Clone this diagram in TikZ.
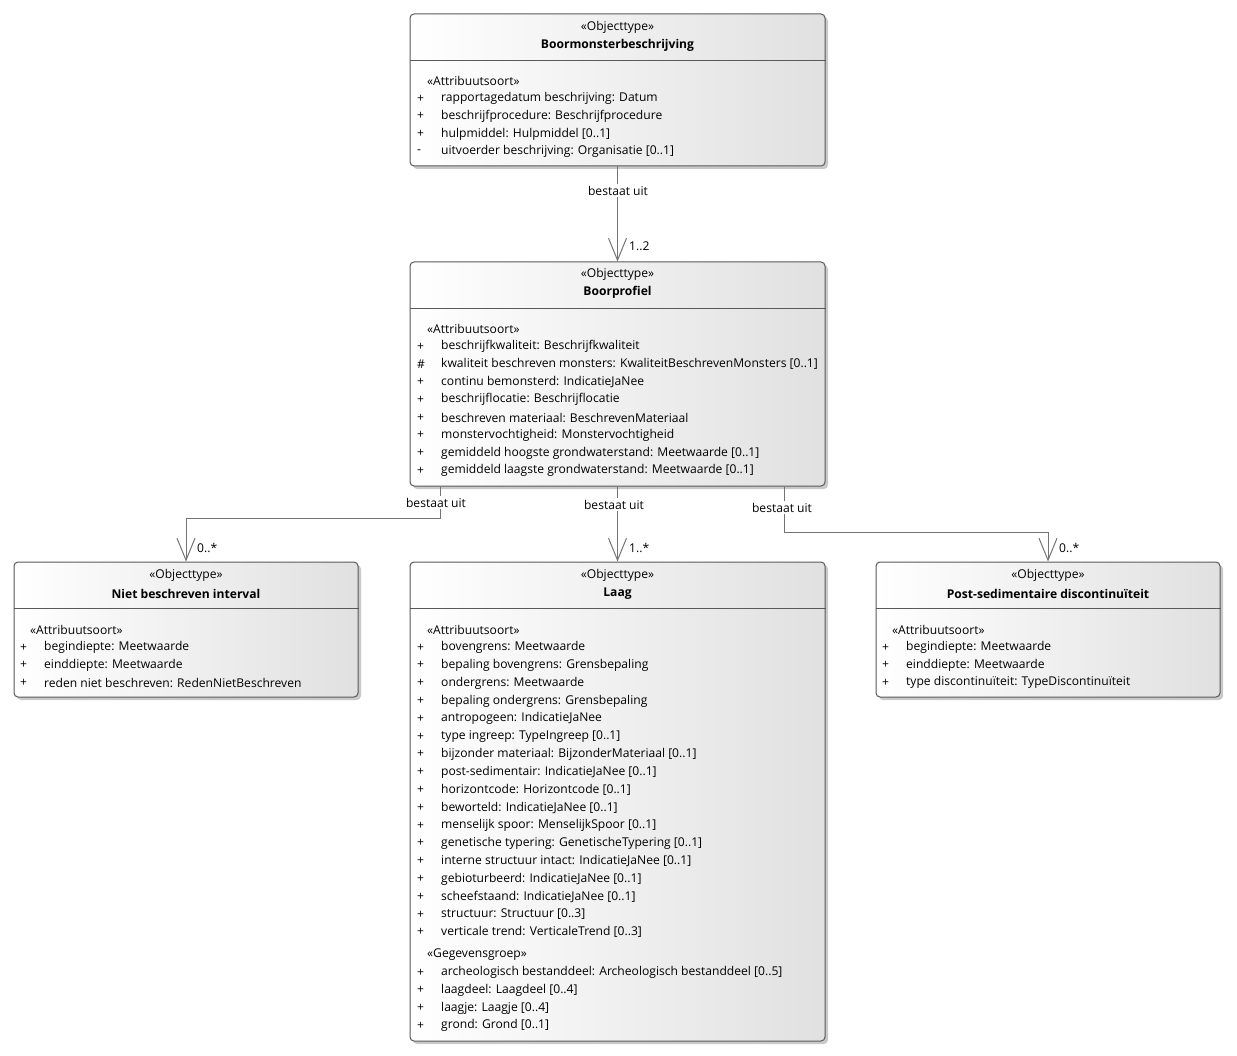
\documentclass[tikz,border=0pt]{standalone}
\usepackage{fontspec}
\setmainfont{Open Sans}
\usetikzlibrary{arrows.meta,shadows}
\tikzset{
 umlbox/.style={draw=black!65, line width=1pt, rounded corners=4pt, left color=white, right color=black!12,
   drop shadow={shadow xshift=3pt, shadow yshift=-3pt, fill=black!30, opacity=0.7}, inner sep=0pt},
 sepline/.style={draw=black!65, line width=0.8pt},
 txt/.style={font=\fontsize{12.1}{14}\selectfont, inner sep=0pt, text=black, yshift=-1.5pt},
 hd/.style={txt, anchor=center},
 hdb/.style={txt, anchor=center, font=\fontsize{12.1}{14}\selectfont\bfseries},
 itm/.style={txt, anchor=west},
 conn/.style={draw=black!55, line width=1pt, -{Straight Barb[length=22pt,width=18pt,line width=1pt]}},
 lbl/.style={txt, fill=white, inner sep=1.5pt},
 mult/.style={txt, anchor=west},
}
\begin{document}
\begin{tikzpicture}[x=1pt,y=-1pt]
\useasboundingbox (0,0) rectangle (1237,1056);
% boxes
\node[umlbox, minimum width=415pt, minimum height=152pt] (b1) at (617.5,90) {};
\node[umlbox, minimum width=415pt, minimum height=224pt] (b2) at (617.5,374) {};
\node[umlbox, minimum width=344pt, minimum height=135pt] (b3) at (186,629.5) {};
\node[umlbox, minimum width=415pt, minimum height=479pt] (b4) at (617.5,801.5) {};
\node[umlbox, minimum width=344pt, minimum height=135pt] (b5) at (1048,629.5) {};
% separators
\draw[sepline] (b1.west |- 0,60) -- (b1.east |- 0,60);
\draw[sepline] (b2.west |- 0,308) -- (b2.east |- 0,308);
\draw[sepline] (b3.west |- 0,608) -- (b3.east |- 0,608);
\draw[sepline] (b4.west |- 0,608) -- (b4.east |- 0,608);
\draw[sepline] (b5.west |- 0,608) -- (b5.east |- 0,608);
% headers
\node[hd] (h1s) at (617.5,26) {«Objecttype»};
\node[hdb] (h1n) at (617.5,44) {Boormonsterbeschrijving};
\node[hd] (h2s) at (617.5,273) {«Objecttype»};
\node[hdb] (h2n) at (617.5,291) {Boorprofiel};
\node[hd] (h3s) at (186,574) {«Objecttype»};
\node[hdb] (h3n) at (186,592) {Niet beschreven interval};
\node[hd] (h4s) at (617.5,574) {«Objecttype»};
\node[hdb] (h4n) at (617.5,592) {Laag};
\node[hd] (h5s) at (1048,574) {«Objecttype»};
\node[hdb] (h5n) at (1048,592) {Post-sedimentaire discontinuïteit};
% box 1
\node[itm] (s1) at (427,79) {«Attribuutsoort»};
\foreach \s/\t [count=\i from 0] in {+/rapportagedatum beschrijving: Datum,
  +/beschrijfprocedure: Beschrijfprocedure,
  +/hulpmiddel: Hulpmiddel [0..1],
  -/uitvoerder beschrijving: Organisatie [0..1]}{
  \node[itm] (v1\i) at (417,97+\i*17.75) {\s};
  \node[itm] (a1\i) at (441,97+\i*17.75) {\t};
}
% box 2
\node[itm] (s2) at (427,327) {«Attribuutsoort»};
\foreach \s/\t [count=\i from 0] in {+/beschrijfkwaliteit: Beschrijfkwaliteit,
  \#/kwaliteit beschreven monsters: KwaliteitBeschrevenMonsters [0..1],
  +/continu bemonsterd: IndicatieJaNee,
  +/beschrijflocatie: Beschrijflocatie,
  +/beschreven materiaal: BeschrevenMateriaal,
  +/monstervochtigheid: Monstervochtigheid,
  +/gemiddeld hoogste grondwaterstand: Meetwaarde [0..1],
  +/gemiddeld laagste grondwaterstand: Meetwaarde [0..1]}{
  \node[itm] (v2\i) at (417,345+\i*17.75) {\s};
  \node[itm] (a2\i) at (441,345+\i*17.75) {\t};
}
% box 3
\node[itm] (s3) at (30,628) {«Attribuutsoort»};
\foreach \s/\t [count=\i from 0] in {+/begindiepte: Meetwaarde,
  +/einddiepte: Meetwaarde,
  +/reden niet beschreven: RedenNietBeschreven}{
  \node[itm] (v3\i) at (20,646+\i*17.6) {\s};
  \node[itm] (a3\i) at (44,646+\i*17.6) {\t};
}
% box 5
\node[itm] (s5) at (892,628) {«Attribuutsoort»};
\foreach \s/\t [count=\i from 0] in {+/begindiepte: Meetwaarde,
  +/einddiepte: Meetwaarde,
  +/type discontinuïteit: TypeDiscontinuïteit}{
  \node[itm] (v5\i) at (882,646+\i*17.6) {\s};
  \node[itm] (a5\i) at (906,646+\i*17.6) {\t};
}
% box 4
\node[itm] (s4) at (427,628) {«Attribuutsoort»};
\foreach \s/\t [count=\i from 0] in {+/bovengrens: Meetwaarde,
  +/bepaling bovengrens: Grensbepaling,
  +/ondergrens: Meetwaarde,
  +/bepaling ondergrens: Grensbepaling,
  +/antropogeen: IndicatieJaNee,
  +/type ingreep: TypeIngreep [0..1],
  +/bijzonder materiaal: BijzonderMateriaal [0..1],
  +/post-sedimentair: IndicatieJaNee [0..1],
  +/horizontcode: Horizontcode [0..1],
  +/beworteld: IndicatieJaNee [0..1],
  +/menselijk spoor: MenselijkSpoor [0..1],
  +/genetische typering: GenetischeTypering [0..1],
  +/interne structuur intact: IndicatieJaNee [0..1],
  +/gebioturbeerd: IndicatieJaNee [0..1],
  +/scheefstaand: IndicatieJaNee [0..1],
  +/structuur: Structuur [0..3],
  +/verticale trend: VerticaleTrend [0..3]}{
  \node[itm] (v4\i) at (417,646+\i*17.8) {\s};
  \node[itm] (a4\i) at (441,646+\i*17.8) {\t};
}
\node[itm] (g4) at (427,953) {«Gegevensgroep»};
\foreach \s/\t [count=\i from 0] in {+/archeologisch bestanddeel: Archeologisch bestanddeel [0..5],
  +/laagdeel: Laagdeel [0..4],
  +/laagje: Laagje [0..4],
  +/grond: Grond [0..1]}{
  \node[itm] (w4\i) at (417,971+\i*17.75) {\s};
  \node[itm] (c4\i) at (441,971+\i*17.75) {\t};
}
% connectors
\draw[conn] (b1.south) -- (b2.north);
\node[lbl] (l1) at (618,189) {bestaat uit};
\node[mult] (m1) at (629,245) {1..2};

\draw[conn] (b2.south -| 440,0) |- (b3.north |- 0,518) -- (b3.north);
\node[lbl] (l2) at (436,501) {bestaat uit};
\node[mult] (m2) at (197,546) {0..*};

\draw[conn] (b2.south -| 617.5,0) -- (b4.north);
\node[lbl] (l3) at (614,503) {bestaat uit};
\node[mult] (m3) at (629,546) {1..*};

\draw[conn] (b2.south -| 784,0) |- (b5.north |- 0,532) -- (b5.north);
\node[lbl] (l4) at (782,506) {bestaat uit};
\node[mult] (m4) at (1059,546) {0..*};
\end{tikzpicture}
\end{document}
